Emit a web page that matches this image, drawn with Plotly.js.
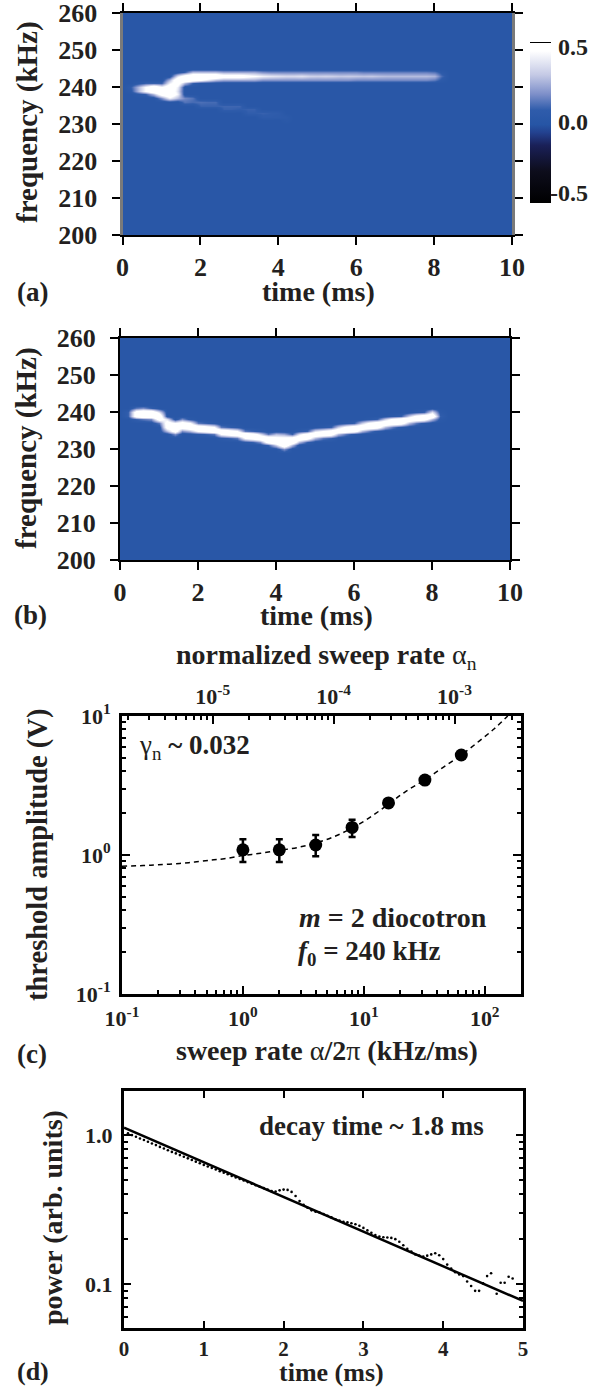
<!DOCTYPE html>
<html><head><meta charset="utf-8">
<script src="https://cdn.plot.ly/plotly-3.0.1.min.js"></script>
<style>html,body{margin:0;padding:0;background:#fff}</style></head>
<body><div id="chart" style="width:599px;height:1387px"></div>
<script>
// ---- panel (a) spectrogram ridge: column times, lowest bin (kHz), bin values
const ridgeTimes = [0.2,0.4,0.6,0.8,1.0,1.2,1.4,1.6,1.8,2.0,2.2,2.4,2.6,2.8,3.0,3.2,3.4,3.6,3.8,4.0,4.2,4.4,4.6,4.8,5.0,5.2,5.4,5.6,5.8,6.0,6.2,6.4,6.6,6.8,7.0,7.2,7.4,7.6,7.8,8.0,8.2];
const ridgeABase = [239,238,238,238,237,237,237,241,241,242,242,242,242,242,242,242,242,242,242,242,242,242,242,242,242,242,242,242,242,242,242,242,242,242,242,242,242,242,242,242,242];
const ridgeAVals = [[.05,.08],[.05,.3,.3,.05],[.1,.5,.5,.1],[.3,.7,.7,.1],[.2,.6,.7,.5,.1],[.45,.7,.7,.65,.45,.3],[.3,.45,.4,.45,.6,.7,.4],[.3,.7,.6,.1],[.1,.6,.7,.3],[.5,.7,.3],[.4,.7,.3],[.3,.7,.3],[.25,.6,.25],[.25,.6,.25],[.25,.6,.25],[.25,.55,.25],[.25,.5,.25],[.2,.45,.2],[.2,.42,.18],[.2,.4,.18],[.2,.38,.18],[.2,.38,.18],[.2,.4,.18],[.2,.36,.18],[.2,.35,.18],[.2,.36,.18],[.2,.35,.18],[.2,.33,.18],[.2,.34,.18],[.18,.33,.18],[.18,.32,.16],[.18,.33,.16],[.18,.31,.16],[.18,.3,.16],[.18,.3,.16],[.18,.3,.16],[.18,.3,.16],[.18,.3,.16],[.18,.3,.16],[.15,.28,.14],[.06,.12,.06]];
const faintTimes = [1.6,1.6,1.8,1.8,2.0,2.0,2.2,2.2,2.4,2.4,2.6,2.6,2.8,2.8,3.0,3.0,3.2,3.2,3.4,3.4,3.6,3.6,3.8,3.8,4.0,4.0,4.2,4.2];
const faintFreqs = [236,237,236,237,235,236,235,236,235,236,234,235,234,235,234,235,233,234,233,234,232,233,232,233,232,233,231,232];
const faintVals = [.14,.18,.12,.14,.1,.13,.1,.12,.1,.12,.1,.11,.1,.11,.09,.11,.09,.1,.09,.1,.08,.1,.08,.09,.07,.08,.05,.06];
// ---- panel (b) spectrogram ridge
const ridgeBBase = [239,238,238,238,237,235,234,235,235,234,234,234,233,233,233,232,232,232,231,231,230,231,232,232,233,233,233,234,234,234,235,235,235,236,236,236,237,237,237,238,238];
const ridgeBVals = [[.1,.1],[.1,.6,.6,.15],[.15,.7,.7,.2],[.2,.7,.7,.1],[.15,.6,.7,.4],[.3,.6,.6,.4],[.2,.6,.6,.5],[.2,.6,.6,.2],[.3,.7,.5,.05],[.05,.5,.7,.15],[.1,.6,.6,.1],[.15,.7,.5,.05],[.05,.5,.7,.15],[.1,.6,.6,.1],[.15,.7,.5,.05],[.05,.5,.7,.15],[.1,.6,.6,.1],[.2,.7,.4,.05],[.1,.6,.7,.15],[.35,.7,.55,.3],[.2,.7,.7,.55,.25],[.3,.7,.6,.1],[.3,.7,.4,.05],[.1,.6,.6,.1],[.3,.7,.4,.02],[.15,.7,.5,.05],[.1,.6,.6,.1],[.3,.7,.35,.02],[.15,.65,.55,.05],[.05,.6,.65,.1],[.3,.7,.35,.02],[.15,.65,.55,.05],[.05,.6,.65,.1],[.3,.7,.35,.02],[.15,.65,.55,.05],[.05,.6,.65,.1],[.3,.7,.35,.02],[.15,.65,.55,.05],[.05,.6,.65,.1],[.3,.7,.4,.02],[.05,.1,.05]];
const freqBins = [];
for (let f = 200; f <= 260; f++) freqBins.push(f);
const gridTimes = [0,0.2].concat(ridgeTimes.slice(1), [8.4,8.6,9,9.4,10]);
const backgroundLevel = 0.02;

// ---- panel (c) threshold amplitude
const sweepRate = [1,2,4,8,16,32,64];
const threshold = [1.09,1.09,1.18,1.58,2.37,3.46,5.24];
const errUp = [0.21,0.21,0.21,0.21,0.05,0.05,0.05];
const errDown = [0.20,0.20,0.20,0.23,0.05,0.05,0.05];
const fitRate = [0.1,0.15,0.2,0.3,0.4,0.55,0.7,1,1.4,2,2.8,4,5.6,8,11,16,22,32,45,64,90,120,155];
const fitAmp = [0.83,0.84,0.85,0.87,0.89,0.92,0.94,0.99,1.03,1.08,1.13,1.22,1.35,1.56,1.84,2.32,2.85,3.48,4.25,5.25,6.6,8.1,10];
const bottomTicksC = [0.1,1,10,100];
const bottomTextC = ['10<sup>-1</sup>','10<sup>0</sup>','10<sup>1</sup>','10<sup>2</sup>'];
const leftTicksC = [0.1,1,10];
const leftTextC = ['10<sup>-1</sup>','10<sup>0</sup>','10<sup>1</sup>'];
const topTicksC = [1e-5,1e-4,1e-3];
const topTextC = ['10<sup>-5</sup>','10<sup>-4</sup>','10<sup>-3</sup>'];

// ---- panel (d) decay
const decayTime = [.05,.1,.15,.2,.25,.3,.35,.4,.45,.5,.55,.6,.65,.7,.75,.8,.85,.9,.95,1,1.05,1.1,1.15,1.2,1.25,1.3,1.35,1.4,1.45,1.5,1.55,1.6,1.65,1.7,1.75,1.8,1.85,1.9,1.95,2,2.05,2.1,2.15,2.2,2.25,2.3,2.35,2.4,2.45,2.5,2.55,2.6,2.65,2.7,2.75,2.8,2.85,2.9,2.95,3,3.05,3.1,3.15,3.2,3.25,3.3,3.35,3.4,3.45,3.5,3.55,3.6,3.65,3.7,3.75,3.8,3.85,3.9,3.95,4,4.05,4.1,4.15,4.2,4.25,4.3,4.35,4.4,4.45,4.5,4.55,4.6,4.67,4.72,4.77,4.82,4.87];
const decayPower = [1.025,.998,.972,.946,.925,.9,.876,.855,.832,.812,.79,.77,.752,.733,.715,.697,.68,.662,.646,.63,.615,.6,.586,.572,.558,.545,.531,.518,.506,.495,.483,.471,.46,.449,.44,.43,.42,.418,.425,.43,.428,.415,.39,.36,.34,.325,.312,.306,.302,.295,.287,.28,.272,.267,.262,.259,.256,.252,.246,.238,.229,.221,.213,.208,.206,.205,.204,.2,.192,.182,.172,.165,.158,.155,.153,.155,.158,.161,.156,.147,.135,.127,.12,.116,.113,.104,.097,.09,.09,.101,.113,.118,.086,.102,.102,.112,.109];
const fitTime = [0,5];
const fitPower = [1.12,0.077];
const yTicksD = [0.1,1];
const yTextD = ['0.1','1.0'];

// ---- build heatmap grids from the tables above
function buildGrid(base, vals, extra) {
  const z = freqBins.map(() => gridTimes.map(() => backgroundLevel));
  const put = (t, f, v) => { const c = gridTimes.findIndex(g => Math.abs(g - t) < 1e-6); const r = f - 200; if (c >= 0 && r >= 0 && r < z.length) z[r][c] = v; };
  ridgeTimes.forEach((t, i) => vals[i].forEach((v, k) => put(t, base[i] + k, v)));
  if (extra) extra.t.forEach((t, i) => put(t, extra.f[i], extra.v[i]));
  return z;
}
const W = 599, H = 1387;
const FONT = 'Liberation Serif', INK = '#231f20';
const fx = (a, b) => [a / W, b / W];
const fy = (top, bot) => [1 - bot / H, 1 - top / H];
const bold = (s, c) => ({family: FONT, size: s, color: c || INK, weight: 700});

const scale = [[0,'#000000'],[0.2,'#0d0d1c'],[0.36,'#1a2058'],[0.44,'#23418f'],[0.49,'#2655a5'],[0.58,'#2f5cab'],[0.68,'#7d8fc9'],[0.8,'#c4c9e5'],[0.95,'#ffffff'],[1,'#ffffff']];

const traces = [
 {type:'heatmap', x:gridTimes, y:freqBins, z:buildGrid(ridgeABase, ridgeAVals, {t:faintTimes,f:faintFreqs,v:faintVals}), xaxis:'x', yaxis:'y', zmin:-0.55, zmax:0.55, colorscale:scale, zsmooth:'best',
  colorbar:{x:530/W, xanchor:'left', y:1-203/H, yanchor:'bottom', lenmode:'pixels', len:160, thicknessmode:'pixels', thickness:21, xpad:0, ypad:0, outlinewidth:0, borderwidth:0, tickmode:'array', tickvals:[-0.5,0,0.5], ticks:'', showticklabels:false}},
 {type:'heatmap', x:gridTimes, y:freqBins, z:buildGrid(ridgeBBase, ridgeBVals), xaxis:'x2', yaxis:'y2', zmin:-0.55, zmax:0.55, colorscale:scale, zsmooth:'best', showscale:false},
 {type:'scatter', mode:'lines', x:fitRate, y:fitAmp, xaxis:'x3', yaxis:'y3', line:{color:'#000', width:1.5, dash:'5px,4px', shape:'spline'}},
 {type:'scatter', mode:'markers', x:sweepRate, y:threshold, xaxis:'x3', yaxis:'y3', marker:{color:'#000', size:13},
  error_y:{type:'data', symmetric:false, array:errUp, arrayminus:errDown, color:'#000', thickness:2.5, width:3.5}},
 {type:'scatter', mode:'markers', x:topTicksC, y:[1,1,1], xaxis:'x4', yaxis:'y3', marker:{opacity:0, size:1}},
 {type:'scatter', mode:'lines', x:fitTime, y:fitPower, xaxis:'x5', yaxis:'y5', line:{color:'#000', width:2.5}},
 {type:'scatter', mode:'markers', x:decayTime, y:decayPower, xaxis:'x5', yaxis:'y5', marker:{color:'#000', size:2.6}}
];

const heatX = (dom, anchor) => ({domain:dom, anchor:anchor, range:[0,10], tickvals:[0,2,4,6,8,10], ticks:'outside', ticklen:8, tickwidth:2, tickcolor:'#000', mirror:'ticks', showline:true, linecolor:'#000', linewidth:2, showgrid:false, zeroline:false, tickfont:bold(26), ticklabeloverflow:'allow'});
const heatY = (dom, anchor, lc, lw) => ({domain:dom, anchor:anchor, range:[200,260], tickvals:[200,210,220,230,240,250,260], ticks:'outside', ticklen:8, tickwidth:2, tickcolor:'#000', mirror:'ticks', showline:true, linecolor:lc, linewidth:lw, showgrid:false, zeroline:false, tickfont:bold(26), ticklabelstandoff:9, ticklabeloverflow:'allow'});

const ann = (text, px, py, size, anchor, extra) => Object.assign({text:text, xref:'paper', yref:'paper', x:px/W, y:1-py/H, xanchor:anchor||'center', yanchor:'middle', showarrow:false, font:bold(size)}, extra||{});
const rot = {textangle:-90};

const layout = {
  width:W, height:H, margin:{l:0,r:0,t:0,b:0}, paper_bgcolor:'#fff', plot_bgcolor:'#fff', showlegend:false,
  xaxis: heatX(fx(122.5,512),'y'),
  yaxis: heatY(fy(13,235),'x','#7a7a7a',3),
  xaxis2: heatX(fx(120,510),'y2'),
  yaxis2: heatY(fy(338,560),'x2','#000',2),
  xaxis3: {domain:fx(122,521), anchor:'y3', type:'log', range:[-1,2.3], tickmode:'array', tickvals:bottomTicksC, ticktext:bottomTextC, ticks:'inside', ticklen:8, tickwidth:2, tickcolor:'#000', showline:true, linecolor:'#000', linewidth:3, showgrid:false, zeroline:false, tickfont:bold(22), ticklabelstandoff:3, ticklabeloverflow:'allow',
    minor:{ticks:'inside', ticklen:4, tickwidth:2, tickcolor:'#000', dtick:'D1', showgrid:false}},
  xaxis4: {domain:fx(122,521), anchor:'y3', overlaying:'x3', side:'top', type:'log', range:[-5.75,-2.45], tickmode:'array', tickvals:topTicksC, ticktext:topTextC, ticks:'inside', ticklen:8, tickwidth:2, tickcolor:'#000', showline:true, linecolor:'#000', linewidth:3, showgrid:false, zeroline:false, tickfont:bold(22), ticklabeloverflow:'allow',
    minor:{ticks:'inside', ticklen:4, tickwidth:2, tickcolor:'#000', dtick:'D1', showgrid:false}},
  yaxis3: {domain:fy(716,994), anchor:'x3', type:'log', range:[-1,1], tickmode:'array', tickvals:leftTicksC, ticktext:leftTextC, ticks:'inside', ticklen:8, tickwidth:2, tickcolor:'#000', mirror:'ticks', showline:true, linecolor:'#000', linewidth:3, showgrid:false, zeroline:false, tickfont:bold(22), ticklabelstandoff:4, ticklabeloverflow:'allow',
    minor:{ticks:'inside', ticklen:4, tickwidth:2, tickcolor:'#000', dtick:'D1', showgrid:false}},
  xaxis5: {domain:fx(124,523), anchor:'y5', range:[0,5], tickvals:[0,1,2,3,4,5], ticks:'inside', ticklen:7, tickwidth:2, tickcolor:'#000', mirror:'ticks', showline:true, linecolor:'#000', linewidth:3, showgrid:false, zeroline:false, tickfont:bold(21), ticklabeloverflow:'allow'},
  yaxis5: {domain:fy(1091,1328), anchor:'x5', type:'log', range:[-1.295,0.295], tickmode:'array', tickvals:yTicksD, ticktext:yTextD, ticks:'inside', ticklen:7, tickwidth:2, tickcolor:'#000', mirror:'ticks', showline:true, linecolor:'#000', linewidth:3, showgrid:false, zeroline:false, tickfont:bold(22), ticklabelstandoff:4, ticklabeloverflow:'allow',
    minor:{ticks:'inside', ticklen:4, tickwidth:2, tickcolor:'#000', dtick:'D1', showgrid:false}},
  annotations: [
    ann('(a)',15,292,27,'left'), ann('(b)',12,615,27,'left'), ann('(c)',15,1054,27,'left'), ann('(d)',15,1371,26,'left'),
    ann('time (ms)',318,291,28), ann('time (ms)',316,615,28),
    ann('frequency (kHz)',27,122,29,'center',rot), ann('frequency (kHz)',26,448,29,'center',rot),
    ann('threshold amplitude (V)',38,855,28.5,'center',rot), ann('power (arb. units)',52,1218,28,'center',rot),
    ann('sweep rate <span style="font-weight:normal">α</span>/2<span style="font-weight:normal">π</span> (kHz/ms)',327,1050,28),
    ann('time (ms)',331,1372,26),
    ann('normalized sweep rate <span style="font-weight:normal">α</span><sub><span style="font-weight:normal">n</span></sub>',326,656,28),
    ann('<span style="font-weight:normal">γ</span><sub><span style="font-weight:normal">n</span></sub> ~ 0.032',137,747,27,'left'),
    ann('<i>m</i> = 2 diocotron',297,917,28,'left'),
    ann('<i>f</i><sub>0</sub> = 240 kHz',296,953,27,'left'),
    ann('decay time ~ 1.8 ms',371,1126,27),
    ann('0.5',590,47,24,'right'), ann('0.0',590,122,24,'right'), ann('-0.5',590,193,24,'right')
  ],
  shapes: [{type:'line', xref:'paper', yref:'paper', x0:530/W, x1:551/W, y0:1-43/H, y1:1-43/H, line:{color:'#000', width:2}}]
};
Plotly.newPlot('chart', traces, layout, {staticPlot:true, displayModeBar:false});
</script></body></html>
